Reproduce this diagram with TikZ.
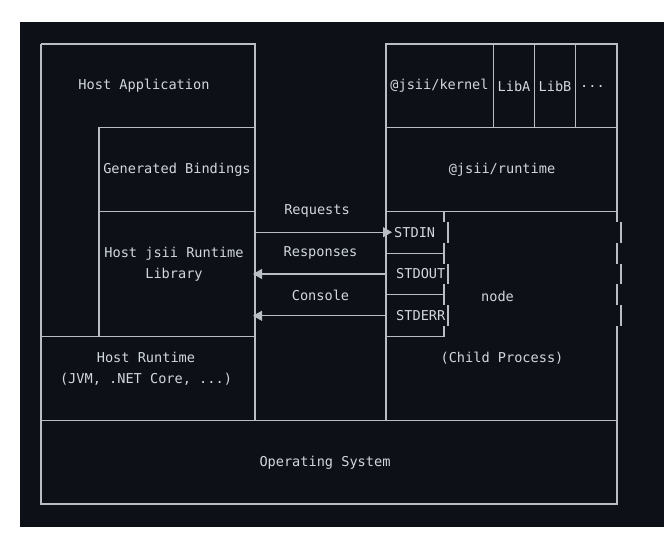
\documentclass[tikz,border=0pt]{standalone}
\definecolor{termbg}{RGB}{13,17,23}
\definecolor{termline}{RGB}{185,190,197}
\definecolor{termtext}{RGB}{210,215,222}
\usepackage{fontspec}
\setmonofont{DejaVu Sans Mono}
\usepackage{tikz}
\usetikzlibrary{arrows.meta,positioning}

\begin{document}
\begin{tikzpicture}[
        x=1pt, y=-1pt,
        wire/.style={draw=termline, line width=1.1pt},
        arrow/.style={wire, -{Triangle[length=9pt,width=10pt]}},
        txt/.style={text=termtext, font=\ttfamily\fontsize{13.6}{20.9}\selectfont, inner sep=2pt, align=center}
    ]
        \useasboundingbox (0,0) rectangle (664,551);
        \fill[termbg] (20,22) rectangle (664,527);

        % Host side
        \draw[wire] (41,44) -- (255,44) -- (255,420.4);
        \draw[wire] (99,336.7) -- (99,127.6) -- (255,127.6);
        \draw[wire] (99,211.3) -- (255,211.3);
        \draw[wire] (41,336.7) -- (255,336.7);

        % Child process side
        \draw[wire] (386,420.4) -- (386,44) -- (617,44) -- (617,221.75);
        \draw[wire] (386,127.6) -- (617,127.6);
        \draw[wire] (386,211.3) -- (617,211.3);
        \draw[wire] (493.5,44) -- (493.5,127.6);
        \draw[wire] (534.5,44) -- (534.5,127.6);
        \draw[wire] (575.5,44) -- (575.5,127.6);
        \draw[wire] (444,211.3) -- (444,221.75);
        \draw[wire] (386,253.1) -- (444,253.1);
        \draw[wire] (386,294.9) -- (444,294.9);
        \draw[wire] (386,336.7) -- (444,336.7);
        % stream rows sit a little to the right
        \foreach \y in {232.2, 274, 315.8} {
            \draw[wire] (448,\y-10.45) -- (448,\y+10.45);
            \draw[wire] (621,\y-10.45) -- (621,\y+10.45);
        }
        \foreach \y in {253.1, 294.9} {
            \draw[wire] (444,\y-10.45) -- (444,\y+10.45);
            \draw[wire] (617,\y-10.45) -- (617,\y+10.45);
        }
        \draw[wire] (444,326.25) -- (444,336.7);

        % Operating system
        \draw[wire] (41,44) -- (41,504) -- (617,504) -- (617,326.25);
        \draw[wire] (41,420.4) -- (617,420.4);

        % Labels
        \node[txt] (hostapp) at (144,86) {Host Application};
        \node[txt] (kernel) at (439.5,86) {@jsii/kernel};
        \node[txt] (liba) at (514,86) {LibA};
        \node[txt] (libb) at (555,86) {LibB};
        \node[txt, anchor=west] (more) at (578,86) {...};
        \node[txt] (bindings) at (177,170) {Generated Bindings};
        \node[txt] (runtime) at (502,170) {@jsii/runtime};
        \node[txt] (hostlib) at (174,264.5) {Host jsii Runtime\\Library};
        \node[txt] (hostrt) at (146,369) {Host Runtime\\(JVM, .NET Core, ...)};
        \node[txt] (child) at (502,358) {(Child Process)};
        \node[txt] (nodejs) at (497.5,296) {node};
        \node[txt] (os) at (325,463) {Operating System};

        % Streams
        \node[txt, anchor=west] (stdin) at (392,232.2) {STDIN};
        \node[txt, anchor=west] (stdout) at (394,274) {STDOUT};
        \node[txt, anchor=west] (stderr) at (394,315.8) {STDERR};
        \node[txt] (requests) at (317,211.3) {Requests};
        \node[txt] (responses) at (320.5,253.1) {Responses};
        \node[txt] (console) at (320.5,294.9) {Console};

        % Arrows
        \coordinate (reqfrom) at (255,232.2);
        \coordinate (outfrom) at (386,274);
        \coordinate (errfrom) at (386,315.8);
        \coordinate (outto) at (253,274);
        \coordinate (errto) at (253,315.8);
        \draw[arrow] (reqfrom) -- (stdin.west);
        \draw[arrow] (outfrom) -- (outto);
        \draw[arrow] (errfrom) -- (errto);
    \end{tikzpicture}
\end{document}
